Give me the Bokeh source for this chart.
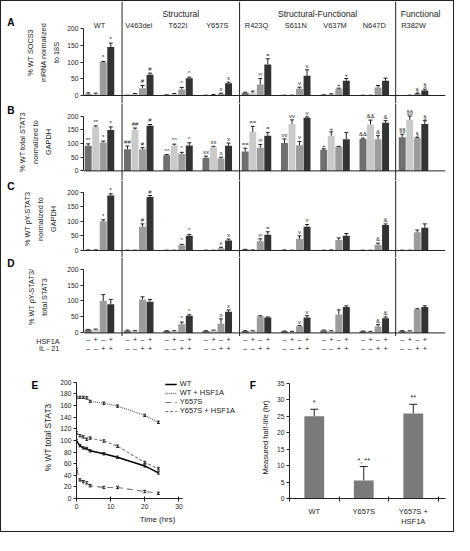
from bokeh.plotting import figure
from bokeh.layouts import column, row
from bokeh.models import Span, Range1d, FixedTicker, ColumnDataSource
from bokeh.core.properties import value
from bokeh.embed import file_html
from bokeh.resources import INLINE

# ---------------- data ----------------
groups = ["WT", "V463del", "T622I", "Y657S", "R423Q", "S611N", "V637M", "N647D", "R382W"]
categories = ["Structural", "Structural-Functional", "Functional"]
hsf1a_signs = ["\u2013", "+", "\u2013", "+"]
il21_signs = ["\u2013", "\u2013", "+", "+"]
row_names = ["HSF1A", "IL - 21"]
panel_letters = ["A", "B", "C", "D", "E", "F"]

# Panel A: % WT SOCS3 mRNA normalized to 18S
a_vals = [[4, 4, 100, 145], [1, 5, 22, 62], [2, 5, 18, 52], [1, 2, 5, 37], [8, 8, 33, 93],
          [1, 1, 20, 59], [2, 4, 20, 44], [1, 1, 24, 44], [0, 1, 5, 15]]
a_err = [[4, 3, 2, 12], [0, 1, 8, 5], [0, 1, 6, 3], [0, 1, 2, 3], [2, 5, 18, 17],
         [0, 0, 5, 18], [0, 1, 2, 7], [0, 0, 6, 8], [0, 0, 1, 4]]
a_sig = [["", "", "*", "*"], ["", "", "#", "#"], ["", "", "^", "^"], ["", "", "x", "x"],
         ["", "", "\u221e", "="], ["", "", "v", "v"], ["", "", "+", "+"], ["", "", "", ""],
         ["", "", "\u00a7", "\u00a7"]]

# Panel B: % WT total STAT3 normalized to GAPDH
b_vals = [[92, 161, 104, 150], [79, 151, 79, 165], [57, 93, 62, 93], [48, 87, 45, 92],
          [71, 143, 85, 129], [102, 172, 94, 195], [77, 129, 88, 116], [117, 170, 116, 176],
          [123, 187, 120, 172]]
b_err = [[7, 4, 5, 11], [12, 6, 6, 5], [3, 5, 6, 10], [6, 3, 5, 10], [12, 20, 12, 12],
         [15, 15, 14, 3], [4, 14, 2, 25], [3, 16, 13, 8], [11, 14, 2, 12]]
b_sig = [["**", "**", "*", "*"], ["##", "##", "#", "#"], ["^^", "^^", "^", "^"],
         ["xx", "xx", "x", "x"], ["==", "==", "\u221e", "="], ["vv", "vv", "v", "v"],
         ["+", "+", "", ""], ["&&", "&&", "&", "&"],
         ["\u00a7\u00a7", "\u00a7\u00a7", "\u00a7", "\u00a7"]]

# Panel C: % WT pY-STAT3 normalized to GAPDH
c_vals = [[2, 2, 100, 188], [1, 1, 81, 183], [1, 1, 18, 50], [1, 1, 8, 34], [3, 2, 32, 54],
          [2, 1, 40, 81], [1, 2, 36, 50], [1, 1, 20, 87], [1, 1, 62, 78]]
c_err = [[0, 0, 5, 6], [0, 0, 10, 5], [0, 0, 3, 5], [0, 0, 3, 5], [1, 0, 8, 10],
         [0, 0, 10, 8], [0, 0, 7, 8], [0, 0, 5, 4], [0, 0, 8, 13]]
c_sig = [["", "", "*", "*"], ["", "", "#", "#"], ["", "", "^", "^"], ["", "", "x", "x"],
         ["", "", "\u221e", "="], ["", "", "v", "v"], ["", "", "", ""], ["", "", "&", "&"],
         ["", "", "", ""]]

# Panel D: % WT pY-STAT3 / total STAT3
d_vals = [[10, 11, 100, 90], [7, 6, 105, 98], [6, 6, 27, 54], [6, 8, 29, 66], [6, 6, 52, 48],
          [5, 4, 21, 48], [8, 6, 58, 81], [5, 4, 20, 46], [6, 6, 74, 81]]
d_err = [[1, 1, 20, 15], [2, 1, 8, 7], [1, 1, 7, 3], [1, 1, 15, 6], [1, 1, 2, 2],
         [1, 1, 2, 6], [1, 1, 14, 4], [1, 1, 6, 4], [1, 1, 2, 4]]
d_sig = [["", "", "", ""], ["", "", "", ""], ["", "", "^", "^"], ["", "", "x", "x"],
         ["", "", "", ""], ["", "", "v", "v"], ["", "", "", ""], ["", "", "&", "&"],
         ["", "", "", ""]]

# Panel E: total STAT3 decay
time_hrs = [0, 1, 2, 3, 4, 8, 12, 20, 24]
wt = [99, 91, 87, 86, 82, 77, 71, 56, 44]
wt_hsf1a = [174, 174, 174, 173, 167, 164, 159, 143, 131]
y657s = [50, 32, 29, 27, 22, 19, 19, 12, 9]
y657s_hsf1a = [113, 108, 106, 102, 104, 99, 90, 62, 51]
wt_err = [2, 2, 2, 2, 2, 2, 2, 2, 2]
wt_hsf1a_err = [2, 2, 2, 2, 2, 2, 2, 2, 2]
y657s_err = [2, 2, 2, 2, 2, 2, 2, 2, 2]
y657s_hsf1a_err = [2, 2, 2, 2, 2, 2, 2, 2, 2]
e_series = [("WT", wt, wt_err), ("WT + HSF1A", wt_hsf1a, wt_hsf1a_err),
            ("Y657S", y657s, y657s_err), ("Y657S + HSF1A", y657s_hsf1a, y657s_hsf1a_err)]

# Panel F: measured half-life
f_cats = ["WT", "Y657S", "Y657S +\nHSF1A"]
half_life = [25.0, 5.5, 25.8]
half_life_err = [2.1, 4.2, 2.8]
f_sig = ["*", "*, **", "**"]

# ---------------- layout helpers ----------------
S = 452 / 470.0


def px(v):
    return max(0, int(round(v * S)))


def fs(v):
    return f"{v * S:.1f}px"


FONT = "Liberation Sans"
INK = "#222222"
BAR_COLORS = ["#6f6f6f", "#cacaca", "#9c9c9c", "#333333"]

GP = 41.75   # group pitch (reference px)
X0 = 94.0    # first group centre (reference px)


def gx(ref_x):
    return (ref_x - X0) / GP


BAR_OFF = [d / GP for d in (-12, -4, 4, 12)]
BAR_W = 7.4 / GP
SEPS = [gx(118), gx(243), gx(409)]
XR = (gx(77), gx(462))

TOTAL_W = px(470)
STRIP_W = px(15)              # strip holding the panel letters A-D
TOP_W = TOTAL_W - STRIP_W
TOP_LEFT = px(77) - STRIP_W   # left border of panels A-D


def base_fig(width, height, xr, yr, left, right, top, bottom, xaxis=True, yaxis=True):
    p = figure(width=width, height=height, x_range=Range1d(*xr), y_range=Range1d(*yr),
               toolbar_location=None, output_backend="svg",
               x_axis_location="below" if xaxis else None,
               y_axis_location="left" if yaxis else None,
               min_border_left=left, min_border_right=right,
               min_border_top=top, min_border_bottom=bottom)
    p.outline_line_color = None
    p.grid.grid_line_color = None
    p.background_fill_color = "white"
    p.border_fill_color = "white"
    return p


def style_axis(ax, tick_size=7.0, label_size=7.9):
    ax.axis_line_color = INK
    ax.major_tick_line_color = INK
    ax.minor_tick_line_color = None
    ax.major_tick_in = 0
    ax.major_tick_out = px(3)
    ax.major_label_text_font = FONT
    ax.major_label_text_font_size = fs(tick_size)
    ax.major_label_text_color = INK
    ax.major_label_standoff = px(2)
    ax.axis_label_text_font = FONT
    ax.axis_label_text_font_size = fs(label_size)
    ax.axis_label_text_font_style = "normal"
    ax.axis_label_text_color = INK


def letter_fig(width, height, ref_w, ref_h, xs, ys, letters):
    p = base_fig(width, height, (0, ref_w), (0, ref_h), 0, 0, 0, 0, xaxis=False, yaxis=False)
    p.text(x=xs, y=[ref_h - y for y in ys], text=letters, text_align="center",
           text_baseline="middle", text_font=value(FONT), text_font_style=value("bold"),
           text_font_size=value(fs(10.5)), text_color="black")
    return p


def bar_panel(vals, errs, sigs, top, bot, zero, k, ylabel, standoff, header=False):
    yr = (-(bot - zero) / k, (zero - top) / k)
    p = base_fig(TOP_W, px(bot) - px(top), XR, yr, TOP_LEFT, px(8), 0, 0, xaxis=False)

    def yv(ref_y):
        return (zero - ref_y) / k

    xs, tops, etops, cols, sg = [], [], [], [], []
    for i in range(len(groups)):
        for j in range(4):
            xs.append(i + BAR_OFF[j])
            tops.append(vals[i][j])
            etops.append(vals[i][j] + errs[i][j])
            cols.append(BAR_COLORS[j])
            sg.append(sigs[i][j])
    src = ColumnDataSource(dict(x=xs, top=tops, etop=etops, color=cols, sig=sg))
    p.vbar(x="x", top="top", bottom=0, width=BAR_W, fill_color="color", line_color=None, source=src)
    p.segment(x0="x", y0="top", x1="x", y1="etop", line_color=INK, line_width=1, source=src)
    p.scatter(x="x", y="etop", marker="dash", size=px(4.5), line_color=INK, line_width=1, source=src)
    p.text(x="x", y="etop", text="sig", text_align="center", text_baseline="bottom", y_offset=-1,
           text_font=value(FONT), text_font_size=value(fs(6.2)), text_color=INK, source=src)

    for s in SEPS:
        p.add_layout(Span(location=s, dimension="height", line_color=INK, line_width=1))
    p.add_layout(Span(location=0, dimension="width", line_color=INK, line_width=1))

    ax = p.yaxis[0]
    style_axis(ax, 7.0, 7.6)
    ax.bounds = (0, 200)
    ax.ticker = FixedTicker(ticks=[0, 50, 100, 150, 200])
    ax.axis_label = ylabel
    ax.axis_label_standoff = px(standoff)
    ax.axis_label_text_line_height = 1.45

    if header:
        p.text(x=list(range(len(groups))), y=[yv(25)] * len(groups), text=groups,
               text_align="center", text_baseline="middle", text_font=value(FONT),
               text_font_size=value(fs(7.7)), text_color=INK)
        edges = SEPS + [XR[1]]
        cx = [(edges[i] + edges[i + 1]) / 2 for i in range(3)]
        p.text(x=cx, y=[yv(13.5)] * 3, text=categories, text_align="center",
               text_baseline="middle", text_font=value(FONT), text_font_size=value(fs(8.9)),
               text_color=INK)
    return p


pa = bar_panel(a_vals, a_err, a_sig, 0, 106, 97.7, 0.347,
               "% WT SOCS3\nmRNA normalized\nto 18S", 3, header=True)
pb = bar_panel(b_vals, b_err, b_sig, 106, 186, 176.0, 0.2835,
               "% WT total STAT3\nnormalized to\nGAPDH", 11)
pc = bar_panel(c_vals, c_err, c_sig, 186, 266, 258.7, 0.3035,
               "% WT pY-STAT3\nnormalized to\nGAPDH", 6)
pd = bar_panel(d_vals, d_err, d_sig, 266, 348, 344.3, 0.3315,
               "% WT pY-STAT3/\ntotal STAT3", 16)

# ---------------- treatment table ----------------
pt = base_fig(TOP_W, px(372) - px(348), XR, (0, 24), TOP_LEFT, px(8), 0, 0, xaxis=False)
tx, ty, tt = [], [], []
for i in range(len(groups)):
    for j in range(4):
        tx += [i + BAR_OFF[j], i + BAR_OFF[j]]
        ty += [20.5, 11.5]
        tt += [hsf1a_signs[j], il21_signs[j]]
pt.text(x=tx, y=ty, text=tt, text_align="center", text_baseline="middle",
        text_font=value(FONT), text_font_size=value(fs(7.5)), text_color=INK)
tax = pt.yaxis[0]
tax.ticker = FixedTicker(ticks=[20.5, 11.5])
tax.major_label_overrides = {20.5: row_names[0], 11.5: row_names[1]}
tax.axis_line_color = None
tax.major_tick_line_color = None
tax.minor_tick_line_color = None
tax.major_label_standoff = px(19)
tax.major_label_text_font = FONT
tax.major_label_text_font_size = fs(7.5)
tax.major_label_text_color = INK

top_h = px(106) + (px(186) - px(106)) + (px(266) - px(186)) + (px(348) - px(266)) + (px(372) - px(348))
letters_top = letter_fig(STRIP_W, top_h, 15, top_h / S, [10, 10, 10, 10],
                         [21.5, 113.5, 192.5, 272.5], panel_letters[:4])

# ---------------- panel E ----------------
BOT_H = px(551) - px(372)
EL_W = px(41)
E_W = px(250) - EL_W
ekx = (182 - 72) / 30.0
eky = (517 - 396) / 200.0
pe = base_fig(E_W, BOT_H, (0, (246 - 72) / ekx), (0, (517 - 390) / eky),
              px(72) - EL_W, px(250) - px(246), px(390) - px(372), px(551) - px(517))
styles = [("black", None, 1.5), ("#666666", "1 1", 1.3), ("#777777", "6 4", 1.1), ("#777777", "3 2", 1.1)]
for (name, ys, er), (col, dash, lw) in zip(e_series, styles):
    kw = dict(line_color=col, line_width=lw, legend_label=name)
    if dash:
        kw["line_dash"] = dash
    pe.line(time_hrs, ys, **kw)
    lo = [v - e for v, e in zip(ys, er)]
    hi = [v + e for v, e in zip(ys, er)]
    pe.segment(x0=time_hrs, y0=lo, x1=time_hrs, y1=hi, line_color=INK, line_width=1)
    pe.scatter(x=time_hrs + time_hrs, y=lo + hi, marker="dash", size=px(3), line_color=INK)

style_axis(pe.yaxis[0], 7.0, 8.6)
pe.yaxis[0].bounds = (0, 200)
pe.yaxis[0].ticker = FixedTicker(ticks=list(range(0, 201, 20)))
pe.yaxis[0].axis_label = "% WT total STAT3"
pe.yaxis[0].axis_label_standoff = px(4)
style_axis(pe.xaxis[0], 7.0, 8.2)
pe.xaxis[0].bounds = (0, 31)
pe.xaxis[0].ticker = FixedTicker(ticks=[0, 10, 20, 30])
pe.xaxis[0].major_tick_in = px(2)
pe.xaxis[0].axis_label = "Time (hrs)"
pe.xaxis[0].axis_label_standoff = px(3)

lg = pe.legend[0]
lg.location = "top_right"
lg.margin = px(3)
lg.padding = 0
lg.spacing = 0
lg.glyph_width = px(12)
lg.glyph_height = px(8)
lg.label_height = px(8)
lg.label_standoff = px(3)
lg.label_text_font = FONT
lg.label_text_font_size = fs(7.8)
lg.label_text_color = INK
lg.border_line_color = None
lg.background_fill_alpha = 0

letter_e = letter_fig(EL_W, BOT_H, 41, BOT_H / S, [35], [385 - 372], [panel_letters[4]])

# ---------------- panel F ----------------
FL_W = px(18)
F_W = TOTAL_W - px(250) - FL_W
fkx = 53.0
fky = (517 - 397) / 35.0
pf = base_fig(F_W, BOT_H, (0, (462 - 295) / fkx), (0, (517 - 390) / fky),
              px(295) - px(250) - FL_W, px(8), px(390) - px(372), px(551) - px(517))
fx = [i + 0.5 for i in range(len(f_cats))]
f_top = [v + e for v, e in zip(half_life, half_life_err)]
pf.vbar(x=fx, top=half_life, bottom=0, width=0.4, fill_color="#7a7a7a", line_color=None)
pf.segment(x0=fx, y0=half_life, x1=fx, y1=f_top, line_color=INK, line_width=1)
pf.scatter(x=fx, y=f_top, marker="dash", size=px(8), line_color=INK)
pf.text(x=fx, y=f_top, text=f_sig, text_align="center", text_baseline="bottom", y_offset=-2,
        text_font=value(FONT), text_font_size=value(fs(7.5)), text_color=INK)
style_axis(pf.yaxis[0], 7.0, 7.9)
pf.yaxis[0].bounds = (0, 35)
pf.yaxis[0].ticker = FixedTicker(ticks=list(range(0, 36, 5)))
pf.yaxis[0].axis_label = "Measured half-life (hr)"
pf.yaxis[0].axis_label_standoff = px(4)
style_axis(pf.xaxis[0], 7.8, 7.9)
pf.xaxis[0].ticker = FixedTicker(ticks=fx, minor_ticks=list(range(len(f_cats) + 1)))
pf.xaxis[0].major_tick_line_color = None
pf.xaxis[0].minor_tick_line_color = INK
pf.xaxis[0].minor_tick_in = px(2)
pf.xaxis[0].minor_tick_out = px(3)
pf.xaxis[0].major_label_overrides = {x: c for x, c in zip(fx, f_cats)}
pf.xaxis[0].major_label_standoff = px(5)

letter_f = letter_fig(FL_W, BOT_H, 18, BOT_H / S, [12], [385 - 372], [panel_letters[5]])

top_block = row(letters_top, column(pa, pb, pc, pd, pt))
bottom_block = row(letter_e, pe, letter_f, pf)
layout = column(top_block, bottom_block, styles={"border": "1px solid #222222"})

open("out.html", "w").write(file_html(layout, INLINE))
